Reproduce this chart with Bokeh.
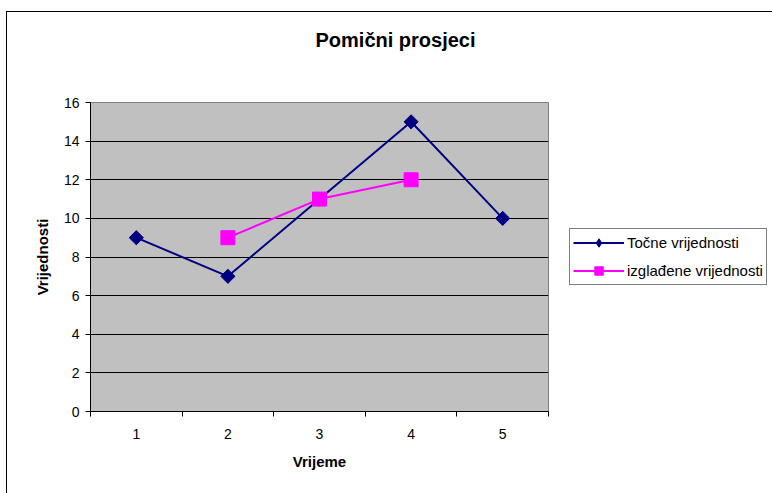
from bokeh.plotting import figure
from bokeh.models import Range1d, FixedTicker, Legend, LegendItem
from bokeh.embed import file_html
from bokeh.resources import INLINE
import math

# ---- data ----
times = [1, 2, 3, 4, 5]
time_labels = ["1", "2", "3", "4", "5"]
actual = [9, 7, 11, 15, 10]
smooth_times = [2, 3, 4]
smoothed = [9, 11, 12]
y_ticks = [0, 2, 4, 6, 8, 10, 12, 14, 16]

FONT = "Liberation Sans"
NAVY = "#000080"
MAGENTA = "#FF00FF"

p = figure(width=765, height=481, output_backend="svg", toolbar_location=None,
           x_range=Range1d(0.5, 5.5), y_range=Range1d(0, 16),
           min_border_left=83, min_border_right=224, min_border_top=90,
           min_border_bottom=82, frame_width=458, frame_height=309)
p.margin = (11, 0, 0, 6)
p.styles = {"border-left": "1px solid black", "border-top": "1px solid black"}

p.background_fill_color = "#C0C0C0"
p.border_fill_color = "white"
p.outline_line_color = "#808080"
p.outline_line_width = 1

# title (trailing blank lines lift it away from the plot area)
p.title.text = "Pomični prosjeci\n\n"
p.title.text_font = FONT
p.title.text_font_size = "20px"
p.title.text_font_style = "bold"
p.title.text_color = "black"
p.title.align = "left"
p.title.offset = 225
p.title.standoff = 16

# axes
p.xaxis.ticker = FixedTicker(ticks=times, minor_ticks=[t - 0.5 for t in times] + [times[-1] + 0.5])
p.xaxis.major_label_overrides = {t: l for t, l in zip(times, time_labels)}
p.xaxis.major_tick_out = 0
p.xaxis.major_tick_in = 0
p.xaxis.minor_tick_out = 5
p.xaxis.minor_tick_in = 0
p.xaxis.minor_tick_line_color = "black"
p.xaxis.axis_line_color = "black"
p.xaxis.major_label_standoff = 12
p.xaxis.axis_label = "Vrijeme"
p.xaxis.axis_label_standoff = 11

p.yaxis.ticker = FixedTicker(ticks=y_ticks)
p.yaxis.major_tick_out = 5
p.yaxis.major_tick_in = 0
p.yaxis.minor_tick_out = 0
p.yaxis.minor_tick_in = 0
p.yaxis.axis_line_color = "black"
p.yaxis.major_label_standoff = 6
p.yaxis.axis_label = "Vrijednosti"
p.yaxis.axis_label_standoff = 10

for ax in (p.xaxis[0], p.yaxis[0]):
    ax.major_label_text_font = FONT
    ax.major_label_text_font_size = "14px"
    ax.major_label_text_color = "black"
    ax.axis_label_text_font = FONT
    ax.axis_label_text_font_size = "15px"
    ax.axis_label_text_font_style = "bold"
    ax.axis_label_text_color = "black"

p.xgrid.grid_line_color = None
p.ygrid.grid_line_color = "black"
p.ygrid.grid_line_width = 1

# series
l1 = p.line(times, actual, line_color=NAVY, line_width=2)
k1 = p.scatter(times, actual, marker="diamond", size=13, fill_color=NAVY, line_color=NAVY)
m1 = p.scatter(times, actual, marker="square", angle=math.pi / 4, size=10,
               fill_color=NAVY, line_color=NAVY)
l2 = p.line(smooth_times, smoothed, line_color=MAGENTA, line_width=2)
k2 = p.scatter(smooth_times, smoothed, marker="square", size=10,
               fill_color=MAGENTA, line_color=MAGENTA)
m2 = p.scatter(smooth_times, smoothed, marker="square", size=14,
               fill_color=MAGENTA, line_color=MAGENTA)

legend = Legend(items=[LegendItem(label="Točne vrijednosti", renderers=[l1, k1]),
                       LegendItem(label="izglađene vrijednosti", renderers=[l2, k2])],
                location=(21, 126))
legend.label_text_font = FONT
legend.label_text_font_size = "15px"
legend.label_text_color = "black"
legend.border_line_color = "black"
legend.border_line_width = 1
legend.background_fill_alpha = 1
legend.background_fill_color = "white"
legend.glyph_width = 51
legend.glyph_height = 21
legend.label_standoff = 3
legend.label_height = 21
legend.padding = 3
legend.spacing = 7
legend.margin = 0
p.add_layout(legend, "right")

open("out.html", "w").write(file_html(p, INLINE))
